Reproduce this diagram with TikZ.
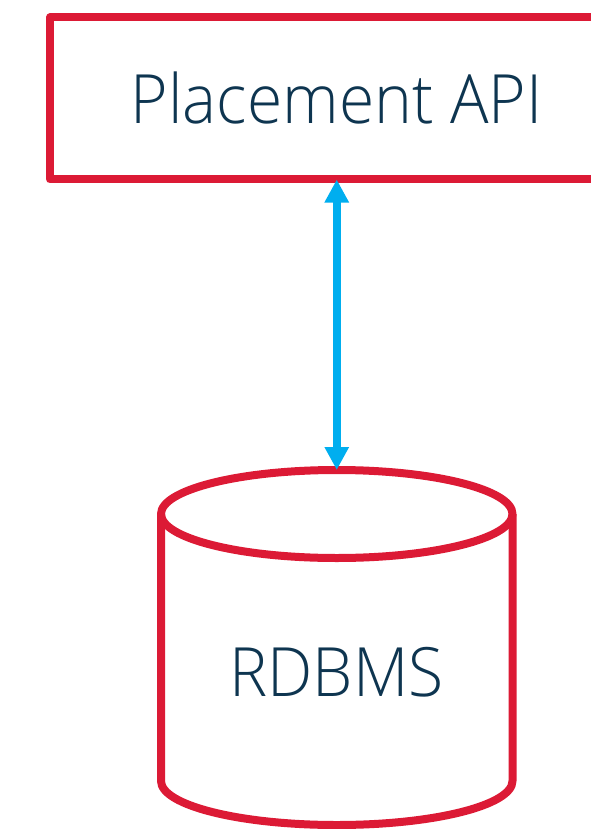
\documentclass[tikz,border=0pt]{standalone}
\usepackage{fontspec}
\setmainfont{Open Sans Light}[FakeStretch=0.943]
\usetikzlibrary{arrows.meta}
\definecolor{boxred}{HTML}{DC1A35}
\definecolor{linkblue}{HTML}{00AEEF}
\definecolor{labelnavy}{HTML}{0E3550}
\tikzset{
  outline/.style={draw=boxred, line width=8pt, line join=round},
  label/.style={text=labelnavy, font=\fontsize{68}{80}\selectfont, inner sep=0pt},
  link/.style={draw=linkblue, line width=8pt,
    {Triangle[width=23pt,length=23pt]}-{Triangle[width=23pt,length=23pt]}}
}
\begin{document}
\begin{tikzpicture}[x=1pt,y=-1pt]
  \useasboundingbox (0,0) rectangle (590,829);
  % service box (runs past the right edge)
  \draw[outline] (50,17.5) rectangle (625,179.5);
  \node[label] (api) at (336.5,98.5) {Placement API};
  \coordinate (apibottom) at (336.75,179.5);
  % database cylinder
  \draw[outline, fill=white] (161,514) -- (161,781)
    arc[start angle=180, end angle=360, x radius=175.75, y radius=-44]
    -- (512.5,514);
  \draw[outline] (336.75,514) ellipse[x radius=175.75, y radius=44];
  \coordinate (dbtop) at (336.75,470);
  \node[label] (db) at (336.5,672) {RDBMS};
  % connector
  \draw[link] (apibottom) -- (dbtop);
\end{tikzpicture}
\end{document}
